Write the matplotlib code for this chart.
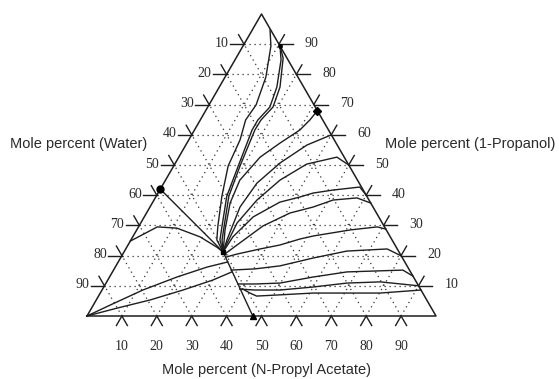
import numpy as np
import matplotlib
matplotlib.use('Agg')
import matplotlib.pyplot as plt

# compositions in mole percent: (N-propyl acetate, 1-propanol); water = rest
azeo = (28.4, 21.2)

top_1 = [(5.1, 94.7), (8.0, 89.4), (11.7, 79.1), (13.5, 69.9), (13.0, 64.9), (14.7, 58.3),
         (15.6, 49.7), (18.8, 39.7), (22.6, 29.8), (24.6, 25.2), azeo]
top_2 = [(10.6, 89.4), (13.5, 85.4), (17.4, 75.8), (18.7, 69.2), (17.4, 64.9), (17.3, 61.6),
         (19.0, 49.7), (20.8, 39.7), (24.4, 29.8), (26.1, 25.2), azeo]
top_3 = [(10.6, 89.4), (13.2, 84.8), (16.5, 75.8), (17.8, 69.2), (16.5, 64.9), (16.5, 61.6),
         (18.5, 49.7), (20.2, 39.7), (23.8, 29.8), (25.5, 25.2), azeo]

right_0 = [(32.0, 67.9), (31.4, 64.9), (30.2, 61.6), (26.7, 57.3), (23.3, 52.6), (21.3, 45.0),
           (22.3, 37.4), (25.3, 28.5), azeo]
right_1 = [(39.9, 59.9), (34.7, 56.6), (30.0, 50.7), (26.7, 44.0), (25.8, 36.1), (27.5, 25.2), azeo]
right_2 = [(50.0, 50.0), (45.3, 52.6), (37.8, 50.3), (32.8, 45.0), (29.5, 38.4), (27.6, 30.8),
           (28.2, 22.5), azeo]
right_3 = [(59.9, 40.1), (56.8, 42.7), (49.6, 41.7), (44.4, 40.7), (41.3, 39.4), (36.4, 37.7),
           (31.2, 32.8), (28.7, 26.2), azeo]
right_4 = [(62.6, 37.4), (57.8, 39.1), (51.3, 38.4), (46.8, 36.1), (41.1, 34.1), (35.5, 29.8),
           (31.7, 24.2), (29.2, 20.5)]
right_5 = [(71.2, 28.8), (68.4, 29.5), (61.2, 28.5), (51.6, 26.5), (48.3, 25.5), (43.5, 23.5),
           (38.5, 22.2), (32.7, 20.5), (30.0, 19.5)]
right_6 = [(80.1, 19.9), (74.9, 22.2), (63.7, 21.5), (55.2, 19.2), (47.0, 16.6), (40.3, 15.6),
           (33.7, 15.2)]
right_7 = [(86.8, 13.2), (82.9, 15.2), (67.2, 14.6), (58.3, 12.9), (49.8, 10.9), (42.8, 10.6),
           (38.0, 10.6)]
right_8 = [(90.0, 10.0), (78.4, 11.3), (69.0, 10.9), (60.0, 9.6), (51.0, 8.6), (43.8, 8.6),
           (39.3, 8.9)]
right_9 = [(91.4, 8.6), (80.2, 7.6), (61.0, 7.6), (51.8, 7.0), (45.3, 6.6), (42.9, 7.6),
           (40.0, 9.0)]

left_1 = [(0.0, 24.8), (5.4, 29.5), (11.2, 29.1), (19.3, 26.2), (25.8, 22.8), azeo]
left_2 = [(0.0, 0.0), (4.8, 3.6), (11.7, 8.6), (19.3, 12.9), (26.3, 16.2), (31.4, 17.9)]
left_3 = [(0.0, 0.0), (7.3, 2.6), (15.4, 5.3), (23.2, 8.6), (30.1, 11.9), (34.2, 14.6)]

boundary = [(0.0, 42.0), azeo, (47.5, 0.0)]

curves = [top_1, top_2, top_3, right_0, right_1, right_2, right_3, right_4, right_5,
          right_6, right_7, right_8, right_9, left_1, left_2, left_3, boundary]

water_azeo = (0.0, 42.0)
npa_azeo = (32.0, 67.9)
bottom_point = (47.5, 0.0)
top_point = (10.6, 89.4)

tick_values = [10, 20, 30, 40, 50, 60, 70, 80, 90]

S = np.sqrt(3) / 2


def to_xy(pts):
    pts = np.asarray(pts, dtype=float) / 100.0
    return pts[:, 0] + pts[:, 1] / 2, pts[:, 1] * S


fig = plt.figure(figsize=(5.59, 3.79), dpi=100)
ax = fig.add_axes([87 / 559, 1 - 316 / 379, 349 / 559, 302 / 379])
ax.set_xlim(0, 1)
ax.set_ylim(0, S)
ax.axis('off')

ink = '#1e1e1e'
num_font = dict(family='Liberation Serif', size=10, color='#2a2a2a')

# triangle
ax.plot([0, 1, 0.5, 0], [0, 0, S, 0], color=ink, lw=1.1, clip_on=False)

# dotted grid
dots = dict(color='#333333', lw=0.9, linestyle=(0, (1, 3)), clip_on=False)
L = 11 / 349
for v in tick_values:
    f = v / 100
    ax.plot([f / 2, 1 - f / 2], [f * S, f * S], **dots)
    ax.plot([f, f + (1 - f) / 2], [0, (1 - f) * S], **dots)
    ax.plot([1 - f, (1 - f) / 2], [0, (1 - f) * S], **dots)

    # ticks: two short legs outward along the grid directions
    bx, by = f, 0
    ax.plot([bx - 0.5 * L, bx, bx + 0.5 * L], [by - S * L, by, by - S * L], color=ink, lw=1.0, clip_on=False)
    lx, ly = f / 2, f * S
    ax.plot([lx - L * 1.25, lx], [ly, ly], color=ink, lw=1.0, clip_on=False)
    ax.plot([lx, lx - 0.5 * L], [ly, ly + S * L], color=ink, lw=1.0, clip_on=False)
    rx, ry = 1 - f / 2, f * S
    ax.plot([rx, rx + L * 1.25], [ry, ry], color=ink, lw=1.0, clip_on=False)
    ax.plot([rx, rx + 0.5 * L], [ry, ry + S * L], color=ink, lw=1.0, clip_on=False)

    ax.annotate(str(100 - v), (lx, ly), xytext=(-15, 1), textcoords='offset pixels',
                ha='right', va='center', **num_font)
    ax.annotate(str(v), (rx, ry), xytext=(26, 1), textcoords='offset pixels',
                ha='left', va='center', **num_font)
    ax.annotate(str(v), (bx, by), xytext=(0, -30), textcoords='offset pixels',
                ha='center', va='center', **num_font)

# residue curves
for c in curves:
    x, y = to_xy(c)
    ax.plot(x, y, color=ink, lw=1.0, solid_joinstyle='round', clip_on=False)

x, y = to_xy([water_azeo])
ax.plot(x, y, 'o', color='black', ms=5, clip_on=False)
x, y = to_xy([npa_azeo])
ax.plot(x, y, 'D', color='black', ms=4.5, clip_on=False)
x, y = to_xy([bottom_point])
ax.plot(x, y, '^', color='black', ms=5, clip_on=False)
x, y = to_xy([top_point])
ax.plot(x, y, 'o', color='black', ms=2.5, clip_on=False)
x, y = to_xy([azeo])
ax.plot(x, y, 's', color='black', ms=3, clip_on=False)

title_font = dict(family='Liberation Sans', size=10.5, color='#2a2a2a')
fig.text(10 / 559, 1 - 144 / 379, 'Mole percent (Water)', ha='left', va='center', **title_font)
fig.text(385 / 559, 1 - 144 / 379, 'Mole percent (1-Propanol)', ha='left', va='center', **title_font)
fig.text(267 / 559, 1 - 370 / 379, 'Mole percent (N-Propyl Acetate)', ha='center', va='center', **title_font)

fig.savefig('out.png', dpi=100)
